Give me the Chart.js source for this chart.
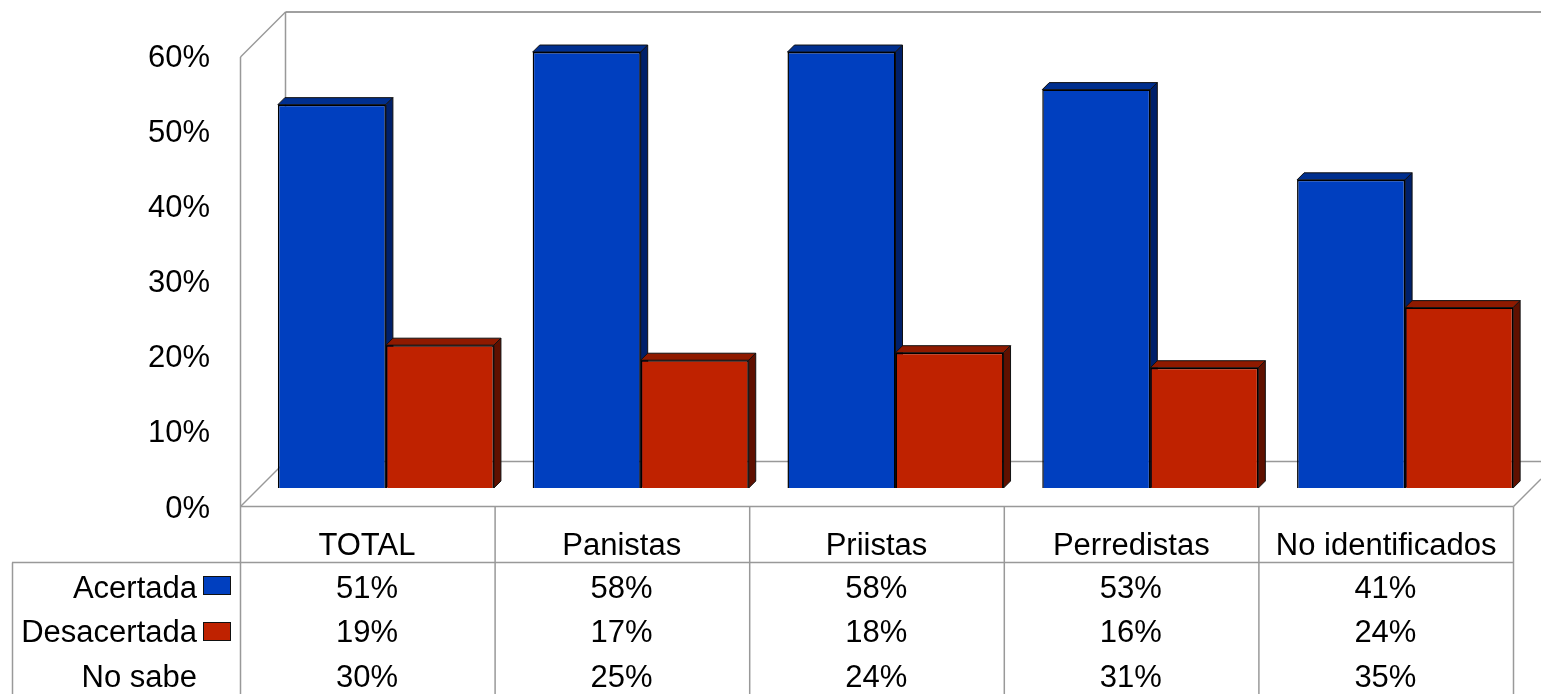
<!DOCTYPE html>
<html>
<head>
<meta charset="utf-8">
<style>
html, body { margin: 0; padding: 0; background: #fff; overflow: hidden; }
#wrap { width: 1541px; height: 694px; }
</style>
<script src="https://cdn.jsdelivr.net/npm/chart.js@4"></script>
</head>
<body>
<div id="wrap"><canvas id="chart" width="1541" height="694"></canvas></div>
<script>
const categories = ["TOTAL", "Panistas", "Priistas", "Perredistas", "No identificados"];
const acertada = [51, 58, 58, 53, 41];
const desacertada = [19, 17, 18, 16, 24];
const noSabe = [30, 25, 24, 31, 35];

const FONT = '"Liberation Sans", Arial, sans-serif';
const FONT_SIZE = 31;
const DEPTH = 7;
const LINE = "#999999";

const BLUE = { front: "#003fbf", top: "#002f8f", side: "#00206a" };
const RED = { front: "#bf2200", top: "#8f1a00", side: "#5f1000" };

function line(ctx, x1, y1, x2, y2) {
    ctx.beginPath();
    ctx.moveTo(x1, y1);
    ctx.lineTo(x2, y2);
    ctx.stroke();
}

function poly(ctx, pts, fill) {
    ctx.beginPath();
    pts.forEach((p, i) => i ? ctx.lineTo(p[0], p[1]) : ctx.moveTo(p[0], p[1]));
    ctx.closePath();
    ctx.fillStyle = fill;
    ctx.fill();
    ctx.strokeStyle = "#111";
    ctx.lineWidth = 1;
    ctx.stroke();
}

// walls, floor and the table grid, then the side faces of the bars
const box3d = {
    id: "box3d",
    beforeDatasetsDraw(chart) {
        const ctx = chart.ctx;
        ctx.save();
        ctx.strokeStyle = LINE;
        ctx.lineWidth = 1.5;
        line(ctx, 240.5, 57, 285.5, 12);
        line(ctx, 285.5, 12, 285.5, 461.5);
        line(ctx, 240.5, 57, 240.5, 694);
        line(ctx, 240.5, 506.5, 285.5, 461.5);
        line(ctx, 285.5, 461.5, 1541, 461.5);
        line(ctx, 1513.5, 506.5, 1541, 479);
        line(ctx, 240.5, 506.5, 1513.5, 506.5);
        line(ctx, 12, 562.5, 1513.5, 562.5);
        line(ctx, 12.5, 562.5, 12.5, 694);
        categories.forEach((c, i) => {
            const x = 240.5 + 254.6 * (i + 1);
            line(ctx, x, 506.5, x, 694);
        });
        ctx.strokeStyle = "#808080";
        line(ctx, 285.5, 12, 1541, 12);
        chart.data.datasets.forEach((ds, d) => {
            const faces = d === 0 ? BLUE : RED;
            chart.getDatasetMeta(d).data.forEach((bar) => {
                const l = bar.x - bar.width / 2, r = bar.x + bar.width / 2;
                poly(ctx, [[l, bar.y], [l + DEPTH, bar.y - DEPTH], [r + DEPTH, bar.y - DEPTH], [r, bar.y]], faces.top);
                poly(ctx, [[r, bar.y], [r + DEPTH, bar.y - DEPTH], [r + DEPTH, bar.base - DEPTH], [r, bar.base]], faces.side);
            });
        });
        ctx.restore();
    },
    afterDatasetsDraw(chart) {
        const ctx = chart.ctx;
        const rowY = [589, 633, 678];
        const rows = [
            ["Acertada", acertada],
            ["Desacertada", desacertada],
            ["No sabe", noSabe]
        ];
        const swatchY = [576, 622];
        ctx.save();
        ctx.font = FONT_SIZE + "px " + FONT;
        ctx.textBaseline = "middle";
        rows.forEach((row, r) => {
            ctx.fillStyle = "#000";
            ctx.textAlign = "right";
            ctx.fillText(row[0], 197, rowY[r]);
            ctx.textAlign = "center";
            row[1].forEach((v, i) => {
                ctx.fillText(v + "%", 367 + 254.6 * i, rowY[r]);
            });
            if (r < 2) {
                ctx.fillStyle = r === 0 ? BLUE.front : RED.front;
                ctx.strokeStyle = "#111";
                ctx.lineWidth = 1;
                ctx.fillRect(203.5, swatchY[r] + 0.5, 27, 18);
                ctx.strokeRect(203.5, swatchY[r] + 0.5, 27, 18);
            }
        });
        ctx.restore();
    }
};

new Chart(document.getElementById("chart"), {
    type: "bar",
    data: {
        labels: categories,
        datasets: [
            { label: "Acertada", data: acertada, backgroundColor: BLUE.front, borderColor: "#000", borderWidth: 1.5 },
            { label: "Desacertada", data: desacertada, backgroundColor: RED.front, borderColor: "#000", borderWidth: 1.5 }
        ]
    },
    options: {
        responsive: false,
        animation: false,
        layout: { padding: { top: 37, right: 8.5, left: 0, bottom: 0 } },
        plugins: { legend: { display: false }, tooltip: { enabled: false } },
        datasets: { bar: { categoryPercentage: 0.848, barPercentage: 1 } },
        scales: {
            x: {
                grid: { display: false, drawTicks: false },
                border: { display: false },
                afterFit: (s) => { s.height = 206; s.paddingLeft = 0; s.paddingRight = 0; },
                ticks: {
                    color: "#000",
                    font: { family: FONT, size: FONT_SIZE },
                    padding: 40,
                    labelOffset: -19,
                    maxRotation: 0,
                    autoSkip: false
                }
            },
            y: {
                min: 0,
                max: 60,
                grid: { display: false, drawTicks: false },
                border: { display: false },
                afterFit: (s) => { s.width = 258.5; s.paddingTop = 0; s.paddingBottom = 0; },
                ticks: {
                    color: "#000",
                    font: { family: FONT, size: FONT_SIZE },
                    stepSize: 10,
                    padding: 48.5,
                    labelOffset: 21,
                    callback: (v) => v + "%"
                }
            }
        }
    },
    plugins: [box3d]
});
</script>
</body>
</html>
